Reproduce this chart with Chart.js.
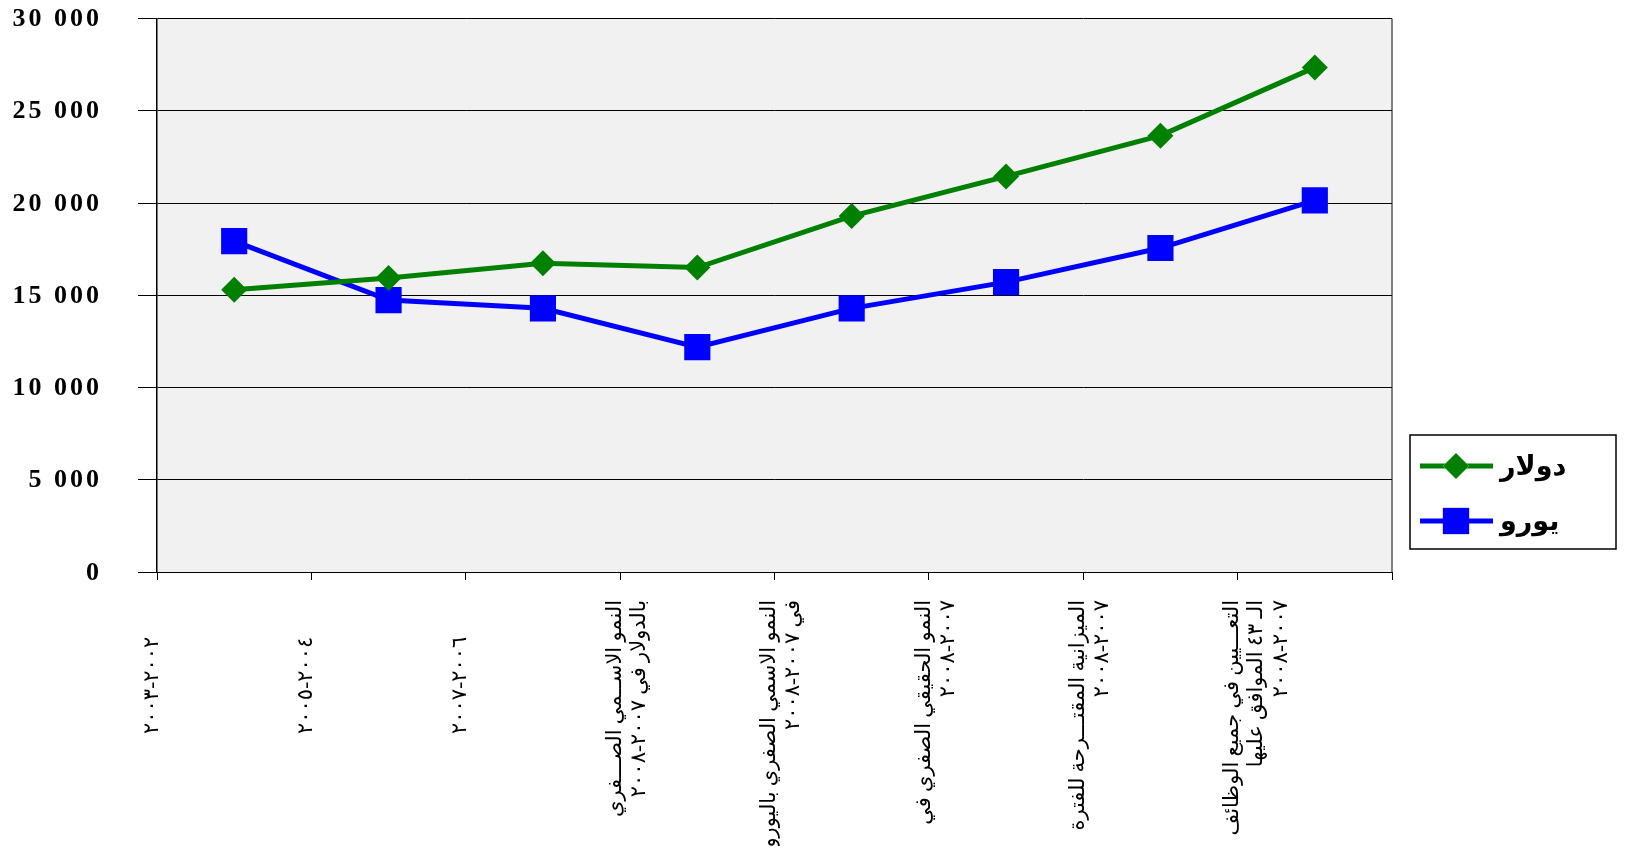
<!DOCTYPE html>
<html>
<head>
<meta charset="utf-8">
<script src="https://cdn.jsdelivr.net/npm/chart.js@4"></script>
<style>
  body { margin: 0; background: #fff; }
  #wrap { width: 1650px; height: 846px; position: relative; }
</style>
</head>
<body>
<div id="wrap"><canvas id="myChart" dir="rtl"></canvas></div>
<script>
// categories (x axis)
const categories = [
    '\u00A0\u00A0\u00A0\u00A0\u00A0\u00A0\u00A0٢٠٠٢-٢٠٠٣',
    '\u00A0\u00A0\u00A0\u00A0\u00A0\u00A0\u00A0٢٠٠٤-٢٠٠٥',
    '\u00A0\u00A0\u00A0\u00A0\u00A0\u00A0\u00A0٢٠٠٦-٢٠٠٧',
    ['النمو الاســمي الصـــفري', 'بالدولار في ٢٠٠٧-٢٠٠٨'],
    ['النمو الاسمي الصفري باليورو', 'في ٢٠٠٧-٢٠٠٨'],
    ['النمو الحقيقي الصفري في', '٢٠٠٧-٢٠٠٨'],
    ['الميزانية المقتـــرحة للفترة', '٢٠٠٧-٢٠٠٨'],
    ['التعـــيين في جميع الوظائف', 'الـ ٤٣ الموافق عليها', '٢٠٠٧-٢٠٠٨']
];

// series
const dollarLabel = 'دولار';
const dollarValues = [15300, 15930, 16730, 16500, 19290, 21440, 23650, 27350];
const euroLabel = 'يورو';
const euroValues = [17930, 14740, 14290, 12190, 14290, 15710, 17560, 20140];

// y axis ticks
const yTicks = [0, 5000, 10000, 15000, 20000, 25000, 30000];
const yTickLabels = ['0', '5 000', '10 000', '15 000', '20 000', '25 000', '30 000'];

const serif = "'Liberation Serif', 'Times New Roman', 'DejaVu Sans', serif";

// plot background + grey right edge
const plotBack = {
    id: 'plotBack',
    beforeDraw(chart) {
        const {ctx, chartArea: a} = chart;
        ctx.save();
        ctx.fillStyle = '#fff';
        ctx.fillRect(0, 0, chart.width, chart.height);
        ctx.fillStyle = '#f1f1f1';
        ctx.fillRect(a.left, a.top, a.right - a.left, a.bottom - a.top);
        ctx.strokeStyle = '#808080';
        ctx.lineWidth = 2;
        ctx.beginPath();
        ctx.moveTo(a.right, a.top);
        ctx.lineTo(a.right, a.bottom);
        ctx.stroke();
        ctx.restore();
    }
};

// y tick labels, letter spaced like the original
const yLabels = {
    id: 'yLabels',
    afterDraw(chart) {
        const ctx = chart.ctx;
        const y = chart.scales.y;
        ctx.save();
        ctx.direction = 'ltr';
        ctx.font = 'bold 26px ' + serif;
        ctx.letterSpacing = '3px';
        ctx.fillStyle = '#000';
        ctx.textAlign = 'right';
        ctx.textBaseline = 'middle';
        yTicks.forEach(function (v, i) {
            ctx.fillText(yTickLabels[i], 102, y.getPixelForValue(v) + 1);
        });
        ctx.restore();
    }
};

// boxed legend on the right
const boxLegend = {
    id: 'boxLegend',
    afterDraw(chart) {
        const ctx = chart.ctx;
        const bx = 1410, by = 435, bw = 206, bh = 114;
        ctx.save();
        ctx.fillStyle = '#fff';
        ctx.fillRect(bx, by, bw, bh);
        ctx.strokeStyle = '#000';
        ctx.lineWidth = 1.5;
        ctx.strokeRect(bx, by, bw, bh);
        chart.data.datasets.forEach(function (ds, i) {
            const ly = by + 31 + i * 55;
            ctx.strokeStyle = ds.borderColor;
            ctx.lineWidth = ds.borderWidth;
            ctx.beginPath();
            ctx.moveTo(bx + 10, ly);
            ctx.lineTo(bx + 83, ly);
            ctx.stroke();
            Chart.helpers.drawPoint(ctx, {
                pointStyle: ds.pointStyle, radius: ds.pointRadius, rotation: 0, borderWidth: 0
            }, bx + 46, ly);
            ctx.fillStyle = ds.pointBackgroundColor;
            ctx.fill();
            ctx.fillStyle = '#000';
            ctx.font = 'bold 27px ' + serif;
            ctx.textAlign = 'left';
            ctx.textBaseline = 'middle';
            ctx.fillText(ds.label, bx + 90, ly + 2);
        });
        ctx.restore();
    }
};

const ctx = document.getElementById('myChart').getContext('2d');

const myChart = new Chart(ctx, {
    type: 'line',
    data: {
        labels: categories,
        datasets: [
            {
                label: dollarLabel,
                data: dollarValues,
                borderColor: '#008000',
                backgroundColor: '#008000',
                pointBackgroundColor: '#008000',
                pointBorderColor: '#008000',
                borderWidth: 5,
                pointStyle: 'rectRot',
                pointRadius: 13,
                pointBorderWidth: 0,
                tension: 0
            },
            {
                label: euroLabel,
                data: euroValues,
                borderColor: '#0000ff',
                backgroundColor: '#0000ff',
                pointBackgroundColor: '#0000ff',
                pointBorderColor: '#0000ff',
                borderWidth: 5,
                pointStyle: 'rect',
                pointRadius: 18.5,
                pointBorderWidth: 0,
                tension: 0
            }
        ]
    },
    options: {
        responsive: true,
        maintainAspectRatio: false,
        animation: false,
        layout: { padding: { top: 16, right: 258, left: 0, bottom: 0 } },
        plugins: {
            legend: { display: false },
            tooltip: { enabled: false }
        },
        scales: {
            x: {
                offset: true,
                grid: { offset: true, drawOnChartArea: false, color: '#000', tickLength: 8 },
                border: { color: '#000', width: 1 },
                ticks: {
                    autoSkip: false,
                    minRotation: 90,
                    maxRotation: 90,
                    color: '#000',
                    padding: 20,
                    labelOffset: -82,
                    font: { family: serif, size: 21, lineHeight: 1.15 }
                },
                afterFit(scale) { scale.height = 274; }
            },
            y: {
                min: 0,
                max: 30000,
                ticks: { stepSize: 5000, display: false },
                grid: { color: '#000', lineWidth: 1, tickLength: 19 },
                border: { color: '#000', width: 1.5 },
                afterFit(scale) { scale.width = 157; }
            }
        }
    },
    plugins: [plotBack, yLabels, boxLegend]
});
</script>
</body>
</html>
